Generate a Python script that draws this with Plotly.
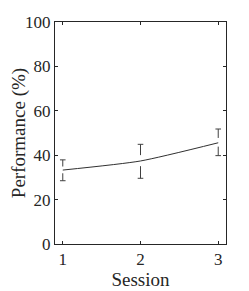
import plotly.graph_objects as go

sessions = [1, 2, 3]
performance = [33.3, 37.4, 45.6]
err_upper = [4.6, 7.5, 6.2]
err_lower = [4.8, 7.8, 5.8]
y_ticks = [0, 20, 40, 60, 80, 100]
x_ticks = [1, 2, 3]

FONT = "Liberation Serif"
AX = "#262626"

fig = go.Figure()

fig.add_trace(go.Scatter(
    x=sessions, y=performance, mode="lines",
    line=dict(color="#303030", width=1, shape="spline", smoothing=0.6),
    showlegend=False, hoverinfo="skip"))

# dashed-looking error bars: segments leaving a gap around the mean
for x, m, eu, el in zip(sessions, performance, err_upper, err_lower):
    fig.add_trace(go.Scatter(
        x=[x, x, None, x, x],
        y=[m + 0.35 * eu, m + eu, None, m - 0.3 * el, m - el],
        mode="lines", line=dict(color="#404040", width=1),
        showlegend=False, hoverinfo="skip"))
    fig.add_trace(go.Scatter(
        x=[x, x], y=[m + eu, m - el], mode="markers",
        marker=dict(symbol="line-ew", size=4, line=dict(color="#404040", width=1)),
        showlegend=False, hoverinfo="skip"))

# page body adds an 8px offset, so the figure is 8px smaller than the window
fig.update_layout(
    width=241, height=283,
    margin=dict(l=47, r=23, t=14, b=47, autoexpand=False),
    paper_bgcolor="white", plot_bgcolor="white",
    font=dict(family=FONT, size=17, color="#262626"),
)
fig.update_xaxes(
    range=[0.9, 3.1], tickvals=x_ticks, ticktext=[str(v) for v in x_ticks],
    ticks="inside", ticklen=3, tickcolor=AX, showline=True, linecolor=AX, linewidth=1,
    mirror="ticks", showgrid=False, zeroline=False, automargin=False,
    title=dict(text="Session", font=dict(family=FONT, size=19), standoff=4),
    tickfont=dict(family=FONT, size=17))
fig.update_yaxes(
    range=[0, 100], tickvals=y_ticks, ticktext=[str(v) for v in y_ticks],
    ticks="inside", ticklen=3, tickcolor=AX, showline=True, linecolor=AX, linewidth=1,
    mirror="ticks", showgrid=False, zeroline=False, automargin=False,
    title=dict(text="Performance (%)", font=dict(family=FONT, size=19), standoff=5),
    tickfont=dict(family=FONT, size=17))

fig.write_html("out.html")
